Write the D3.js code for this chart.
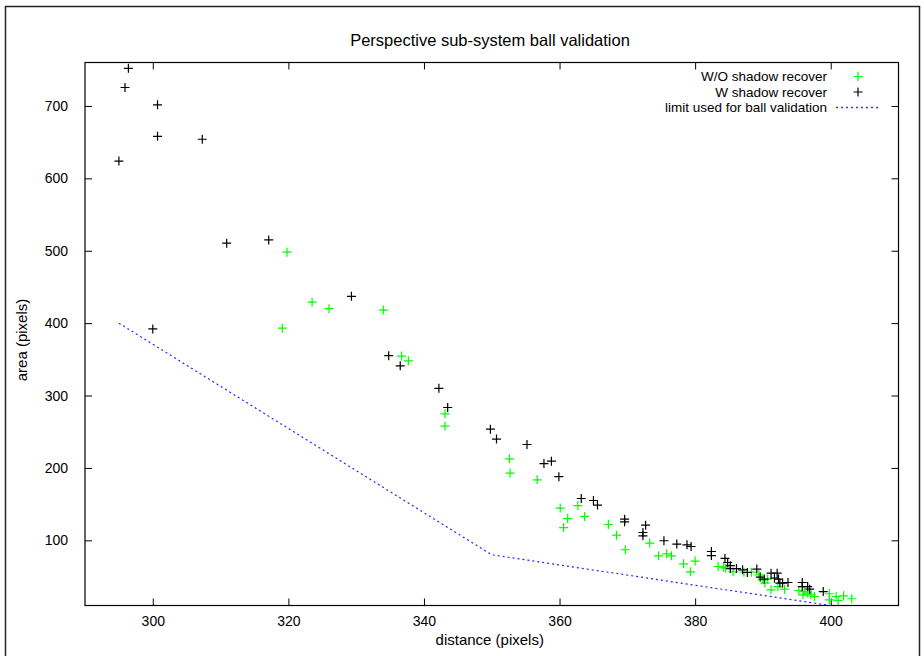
<!DOCTYPE html>
<html>
<head>
<meta charset="utf-8">
<script src="https://cdn.jsdelivr.net/npm/d3@7"></script>
<style>
  html, body { margin: 0; padding: 0; background: #fff; }
  svg { display: block; font-family: "Liberation Sans", Arial, Helvetica, sans-serif; }
</style>
</head>
<body>
<svg id="chart" width="924" height="656"></svg>
<script>
// Ball area vs. distance, perspective sub-system
const xTicks = [300, 320, 340, 360, 380, 400];
const yTicks = [100, 200, 300, 400, 500, 600, 700];
const xDomain = [290, 410];
const yDomain = [10, 760];

// W/O shadow recover (green)
const woShadow = [
  [319.8, 498], [323.5, 429], [326.0, 420], [334.0, 418], [319.1, 393],
  [336.7, 354.5], [337.7, 348], [343.1, 274.8], [343.1, 257.8],
  [352.6, 212.6], [352.7, 192.9], [356.7, 183.6], [360.1, 144.5],
  [361.2, 130], [360.6, 117.7], [363.7, 133], [362.7, 148],
  [367.2, 121.9], [368.4, 107.2], [369.7, 87], [373.3, 96.2],
  [374.6, 78.6], [375.8, 81.4], [376.5, 78.6], [378.3, 67.6],
  [379.3, 56.5], [380.0, 71.3], [383.4, 63.9], [384.5, 61.6],
  [385.6, 56.5], [384.2, 63], [387.2, 56], [388.3, 56], [389.4, 52.4],
  [389.9, 45.5], [390.3, 41], [390.7, 46.5], [391.2, 31.7], [392.2, 36.2],
  [393.2, 32.6], [395.3, 30.7], [396.1, 29.3], [396.6, 27.1], [395.9, 24.8],
  [397.1, 24.8], [397.6, 22.4], [399.8, 26.2], [399.8, 17.9], [400.8, 22.4],
  [401.1, 16.9], [401.9, 23.4], [403.1, 19.3]
];

// W shadow recover (black)
const wShadow = [
  [296.4, 752], [295.9, 725.5], [300.7, 701.6], [300.7, 658], [307.3, 654],
  [295.0, 623.8], [310.9, 510.5], [317.1, 515], [329.3, 437], [300.0, 392],
  [334.8, 355], [336.5, 341], [342.2, 310], [343.5, 283.5], [349.8, 253.6],
  [350.7, 239.8], [355.2, 232.4], [357.7, 206], [358.8, 209.4], [359.9, 188],
  [363.2, 157.8], [365.0, 155], [365.6, 148.7], [369.6, 129.3], [369.6, 125.6],
  [372.7, 121], [372.3, 110.8], [372.3, 106.3], [375.4, 99.4], [377.3, 94.8],
  [378.8, 93.8], [379.4, 91.5], [382.4, 84.6], [382.4, 79], [384.4, 75],
  [384.8, 69.4], [385.2, 61], [386.1, 61], [385.2, 65], [387.0, 59.3],
  [387.7, 55.6], [389.1, 60.3], [389.6, 49.2], [390.2, 46.5], [391.2, 54.7],
  [392.1, 54.7], [391.7, 47.8], [392.3, 46.5], [392.5, 41], [392.9, 41],
  [393.7, 41.8], [395.8, 41.8], [395.8, 36.2], [396.6, 36.2], [396.9, 32.6],
  [398.9, 29.3]
];

// limit used for ball validation
const limitLine = [[295, 400], [350, 80], [400, 10]];

const legendLabels = ["W/O shadow recover", "W shadow recover", "limit used for ball validation"];

const svg = d3.select("#chart");
const plot = { left: 85, top: 62.5, right: 898.5, bottom: 605.5 };

const x = d3.scaleLinear().domain(xDomain).range([plot.left, plot.right]);
const y = d3.scaleLinear().domain(yDomain).range([plot.bottom, plot.top]);

// outer page frame
svg.append("rect")
  .attr("x", 5.5).attr("y", 6.5).attr("width", 914).attr("height", 700)
  .attr("fill", "none").attr("stroke", "#222").attr("stroke-width", 1.5);

// title
svg.append("text")
  .attr("x", 490).attr("y", 46)
  .attr("text-anchor", "middle").attr("font-size", 16.5).attr("fill", "#000")
  .text("Perspective sub-system ball validation");

// axes with inward ticks, mirrored on top and right
const tickLen = 7;
svg.append("g").attr("transform", `translate(0,${plot.bottom})`)
  .call(d3.axisBottom(x).tickValues(xTicks).tickSizeInner(-tickLen).tickSizeOuter(0).tickPadding(11).tickFormat(d3.format("d")))
  .call(g => g.select(".domain").remove())
  .call(g => g.selectAll("text").attr("font-size", 14).attr("fill", "#000").attr("font-family", "Liberation Sans, Arial, sans-serif"));
svg.append("g").attr("transform", `translate(0,${plot.top})`)
  .call(d3.axisTop(x).tickValues(xTicks).tickSizeInner(-tickLen).tickSizeOuter(0).tickFormat(""))
  .call(g => g.select(".domain").remove());
svg.append("g").attr("transform", `translate(${plot.left},0)`)
  .call(d3.axisLeft(y).tickValues(yTicks).tickSizeInner(-tickLen).tickSizeOuter(0).tickPadding(17).tickFormat(d3.format("d")))
  .call(g => g.select(".domain").remove())
  .call(g => g.selectAll("text").attr("font-size", 14).attr("fill", "#000").attr("font-family", "Liberation Sans, Arial, sans-serif"));
svg.append("g").attr("transform", `translate(${plot.right},0)`)
  .call(d3.axisRight(y).tickValues(yTicks).tickSizeInner(-tickLen).tickSizeOuter(0).tickFormat(""))
  .call(g => g.select(".domain").remove());
svg.selectAll(".tick line").attr("stroke", "#000");

// plot border
svg.append("rect")
  .attr("x", plot.left).attr("y", plot.top)
  .attr("width", plot.right - plot.left).attr("height", plot.bottom - plot.top)
  .attr("fill", "none").attr("stroke", "#000").attr("stroke-width", 1.2);

// axis titles
svg.append("text")
  .attr("x", (plot.left + plot.right) / 2 - 2).attr("y", 645)
  .attr("text-anchor", "middle").attr("font-size", 15).attr("fill", "#000")
  .text("distance (pixels)");
svg.append("text")
  .attr("transform", `translate(27,${(plot.top + plot.bottom) / 2 + 6}) rotate(-90)`)
  .attr("text-anchor", "middle").attr("font-size", 15).attr("fill", "#000")
  .text("area (pixels)");

// limit line
svg.append("path")
  .datum(limitLine)
  .attr("d", d3.line().x(d => x(d[0])).y(d => y(d[1])))
  .attr("fill", "none").attr("stroke", "#2222ff").attr("stroke-width", 1.2)
  .attr("stroke-dasharray", "2,3");

// plus markers
const half = 4.5;
function plus(g, data, color) {
  g.selectAll("path").data(data).join("path")
    .attr("d", d => {
      const cx = x(d[0]), cy = y(d[1]);
      return `M${cx - half},${cy}H${cx + half}M${cx},${cy - half}V${cy + half}`;
    })
    .attr("stroke", color).attr("stroke-width", 1.2).attr("fill", "none");
}
plus(svg.append("g"), woShadow, "#00ff00");
plus(svg.append("g"), wShadow, "#000");

// legend
const legend = svg.append("g");
const rowsY = [76.5, 92, 107.5];
legendLabels.forEach((label, i) => {
  legend.append("text")
    .attr("x", 827).attr("y", rowsY[i]).attr("dy", "0.35em")
    .attr("text-anchor", "end").attr("font-size", 13.5).attr("fill", "#000")
    .text(label);
});
[["#00ff00", rowsY[0]], ["#000", rowsY[1]]].forEach(([c, ly]) => {
  legend.append("path")
    .attr("d", `M${858 - half},${ly}H${858 + half}M858,${ly - half}V${ly + half}`)
    .attr("stroke", c).attr("stroke-width", 1.2);
});
legend.append("path")
  .attr("d", `M836,${rowsY[2]}H880`)
  .attr("fill", "none").attr("stroke", "#3333ff").attr("stroke-width", 1.5)
  .attr("stroke-dasharray", "2,3");
</script>
</body>
</html>
